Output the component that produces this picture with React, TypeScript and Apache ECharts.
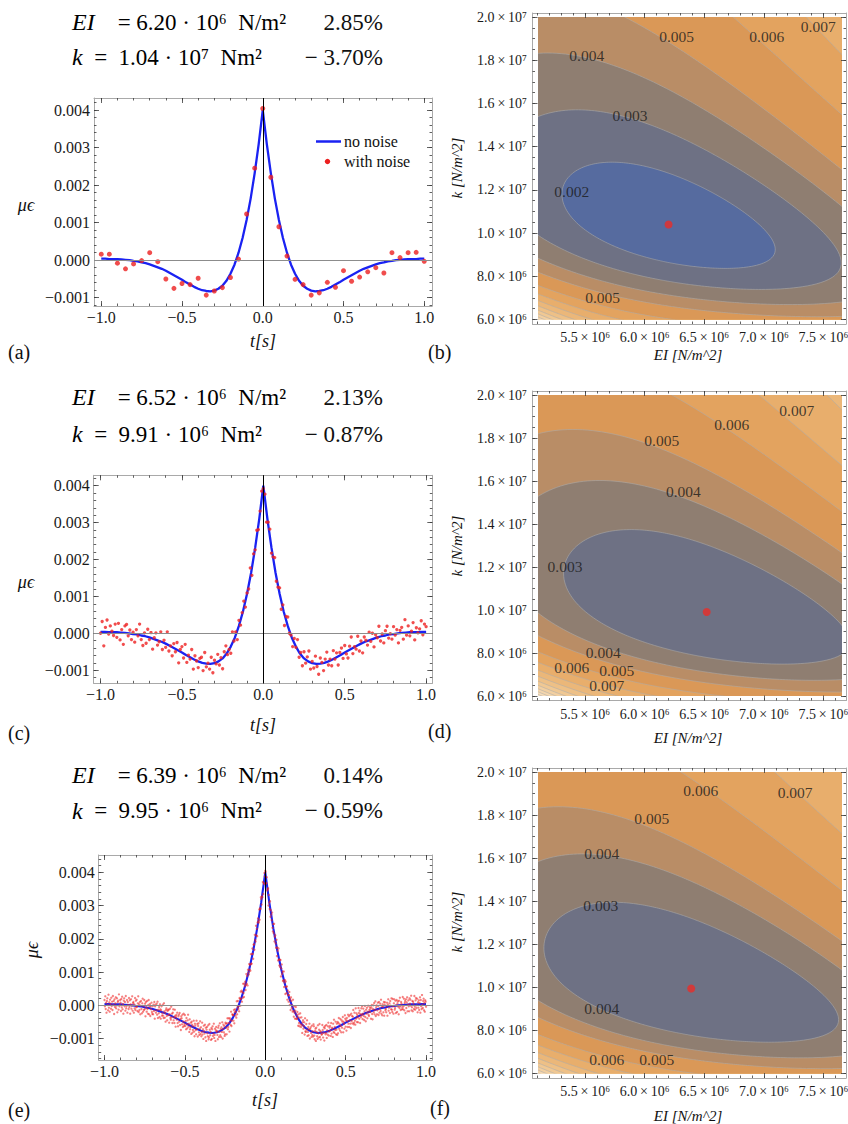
import React, { useEffect, useRef } from "react";
import * as echarts from "echarts";

// ======================= DATA =======================
// Signal panels (a), (c), (e): strain values in units of 1e-5 (µε)
const SIGNAL_SCALE = 1e-5;
const curveStep = 0.025; // t from -1 to 1
const curveNoNoise = [4,4,3,3,3,2,1,0,-2,-3,-6,-8,-11,-15,-19,-23,-28,-34,-40,-46,-52,-59,-65,-71,-76,-80,-82,-83,-81,-76,-68,-55,-36,-12,20,59,107,164,232,310,400,310,232,164,107,59,20,-12,-36,-55,-68,-76,-81,-83,-82,-80,-76,-71,-65,-59,-52,-46,-40,-34,-28,-23,-19,-15,-11,-8,-6,-3,-2,0,1,2,3,3,3,4,4];

// (a) 41 noisy samples, dt = 0.05
const noisyA = [16,16,-8,-23,-10,-1,20,-4,-50,-75,-62,-65,-48,-93,-82,-73,-46,3,123,245,404,221,89,11,-51,-65,-93,-87,-59,-72,-28,-56,-45,-31,-20,-34,20,7,20,21,-3];

// (c) 201 noisy samples, dt = 0.01
const noisyC = [
0,32,-34,16,36,-2,20,6,-6,25,
-11,27,-18,10,-30,20,24,-7,9,-17,
3,-24,10,-7,25,-17,-33,1,-27,11,
-17,2,-43,-12,1,-32,-23,4,-44,-19,
-38,4,-48,-34,-61,-28,-50,-25,-80,-44,
-36,-67,-30,-79,-59,-70,-44,-97,-61,-75,
-93,-68,-65,-101,-52,-91,-81,-97,-65,-107,
-73,-83,-57,-86,-66,-96,-50,-34,-58,-44,
-54,4,-21,4,-17,35,22,56,87,71,
109,120,177,157,215,226,279,281,331,385,
392,377,301,301,282,217,207,205,141,125,
123,65,77,21,46,44,0,-5,-36,-14,
-38,-17,-65,-52,-88,-50,-81,-64,-48,-97,
-76,-94,-62,-90,-111,-67,-79,-101,-70,-51,
-86,-70,-88,-47,-70,-53,-86,-52,-40,-68,
-33,-56,-67,-35,-10,-55,-36,-43,-8,-48,
-21,-53,-10,-19,-32,3,-22,0,-37,-4,
-12,19,-21,-2,-26,7,19,-13,-1,-16,
18,-5,10,-26,8,16,-16,37,-5,20,
-7,6,29,-18,15,1,12,34,-4,25,
18];

// (e) 801 noisy samples, dt = 0.0025
const noisyE = [
16,-3,27,-11,8,-22,13,21,1,-15,32,-7,9,-19,17,4,-10,23,-2,11,
-14,28,1,13,-26,18,-5,6,24,-9,-1,21,-21,10,14,-13,33,-3,2,16,
8,-17,19,-6,26,-12,4,-25,14,21,-3,10,-16,28,-9,-2,16,-22,10,1,
-11,22,-5,15,-25,3,18,-10,-1,27,-16,7,10,-22,3,-9,22,-14,14,-6,
17,-4,-17,6,27,-20,3,-14,10,-27,-1,13,-11,-24,6,20,-19,-2,-14,16,
-12,5,-33,10,-6,-19,13,-11,-25,1,16,-27,-4,4,-32,-2,-12,8,-20,-26,
-3,-27,2,-17,10,-40,-3,2,-22,-15,5,-28,11,-38,-13,-24,-5,-35,3,-12,
-40,-15,-3,-31,-24,2,-31,-38,6,-18,-37,-23,-49,-14,-9,-32,-45,-17,-13,-29,
-13,-52,-27,-10,-38,-43,-4,-36,-25,-53,-22,-12,-45,-36,-53,-13,-31,-64,-36,-29,
-43,-22,-53,-63,-33,-28,-49,-23,-59,-41,-74,-33,-39,-57,-28,-65,-49,-25,-62,-56,
-29,-62,-47,-72,-38,-57,-69,-45,-28,-64,-55,-80,-42,-72,-65,-52,-86,-49,-58,-82,
-74,-63,-46,-79,-93,-55,-61,-74,-87,-46,-72,-56,-94,-62,-54,-81,-89,-70,-48,-86,
-66,-93,-80,-52,-88,-72,-101,-61,-78,-85,-58,-96,-67,-107,-73,-65,-84,-93,-60,-102,
-96,-56,-73,-90,-80,-104,-68,-101,-72,-63,-92,-85,-55,-98,-89,-70,-107,-75,-65,-80,
-77,-89,-102,-67,-61,-95,-80,-54,-90,-71,-95,-66,-80,-51,-100,-71,-58,-81,-62,-92,
-87,-52,-55,-67,-87,-54,-39,-72,-65,-39,-53,-79,-39,-44,-59,-19,-62,-46,-27,-29,
-29,-46,-14,-54,-21,-12,-31,-19,-37,12,-27,-5,13,-11,-2,-18,22,20,-1,41,
19,44,11,40,23,65,37,25,65,58,71,46,61,94,65,88,60,107,99,93,
124,107,121,104,154,125,125,154,171,155,140,182,184,167,212,197,192,239,210,230,
208,249,261,253,249,288,257,292,290,325,320,303,328,325,371,335,368,365,398,388,
405,
402,367,367,385,345,349,352,300,332,309,290,313,266,286,273,256,279,233,222,244,
217,245,192,206,211,186,173,197,148,174,164,135,171,138,120,138,115,136,87,111,
123,94,101,73,75,102,55,69,76,34,72,56,37,57,17,45,30,11,31,40,
1,19,-14,24,13,-8,0,-19,17,-17,-34,-3,-22,-40,-16,-5,-40,-28,-41,-20,
-35,-61,-27,-53,-63,-37,-24,-57,-65,-36,-59,-83,-51,-45,-70,-62,-51,-88,-39,-78,
-80,-56,-73,-45,-92,-80,-65,-90,-72,-55,-100,-71,-66,-83,-95,-61,-89,-78,-94,-57,
-63,-91,-102,-77,-70,-107,-67,-80,-93,-101,-60,-84,-97,-73,-56,-95,-77,-103,-81,-88,
-87,-59,-74,-97,-83,-66,-106,-69,-62,-87,-83,-59,-98,-75,-88,-63,-52,-91,-79,-67,
-62,-76,-92,-53,-85,-67,-70,-95,-55,-80,-43,-83,-65,-74,-49,-87,-73,-55,-89,-50,
-84,-53,-38,-70,-57,-76,-41,-62,-81,-45,-67,-49,-35,-81,-49,-56,-70,-30,-40,-64,
-45,-76,-38,-47,-65,-28,-55,-33,-65,-45,-29,-55,-68,-25,-47,-32,-54,-34,-14,-57,
-52,-22,-46,-58,-9,-40,-24,-50,-29,-36,-51,-8,-23,-40,-16,-53,-26,-35,-9,-29,
-3,-41,-25,-10,-32,-44,-18,-2,-35,-48,-13,-25,-7,-39,-19,-1,-28,-32,-14,-6,
-20,-10,-40,-6,1,-26,-42,-11,0,-21,7,-27,-14,12,-32,-6,0,-27,-15,8,
-2,-29,10,-22,-10,5,-17,17,-25,-3,-30,3,-4,-21,10,-31,2,9,-15,-11,
-21,-2,8,-31,2,18,-16,-7,6,-23,13,-1,-12,21,-13,-20,19,-3,-25,6,
18,-13,-8,14,-23,0,16,-20,6,12,-4,-27,14,-8,23,-2,-14,10,5,-12,
-6,25,-12,-3,20,-15,7,13,-23,18,-8,9,24,-18,2,15,-3,-18,21,5,
17,-1,29,-15,-6,13,-18,11,5,-11,28,-4,-13,15,22,-8,0,20,-21,9,
-7,15,-14,7,24,-22,16,-3,-11,31,2,-8,13,20,-15,7,-19,15,11,-4];

// Tick values for the signal panels
const signalXMajor = [-1, -0.5, 0, 0.5, 1];
const signalXMinor = [-1,-0.9,-0.8,-0.7,-0.6,-0.5,-0.4,-0.3,-0.2,-0.1,0,0.1,0.2,0.3,0.4,0.5,0.6,0.7,0.8,0.9,1];
const signalYMajor = [-0.001, 0, 0.001, 0.002, 0.003, 0.004];
const signalYMinor = [-0.0016,-0.0014,-0.0012,-0.001,-0.0008,-0.0006,-0.0004,-0.0002,0,0.0002,0.0004,0.0006,0.0008,0.001,0.0012,0.0014,0.0016,0.0018,0.002,0.0022,0.0024,0.0026,0.0028,0.003,0.0032,0.0034,0.0036,0.0038,0.004,0.0042,0.0044,0.0046];

// Identified parameters (text + red dots)
const fitEI = ["6.20", "6.52", "6.39"];
const fitEIErr = ["2.85%", "2.13%", "0.14%"];
const fitK = ["1.04", "9.91", "9.95"];
const fitKExp = ["\u2077", "\u2076", "\u2076"];
const fitKErr = ["\u2212 3.70%", "\u2212 0.87%", "\u2212 0.59%"];
const estimateEI = [6.20e6, 6.52e6, 6.39e6];
const estimateK = [1.04e7, 9.91e6, 9.95e6];

// Contour panels (b), (d), (f)
const EI_RANGE = [5.104e6, 7.656e6];
const K_RANGE = [6e6, 2e7];
const eiMajor = [5.5e6, 6e6, 6.5e6, 7e6, 7.5e6];
const kMajor = [6e6, 8e6, 1e7, 1.2e7, 1.4e7, 1.6e7, 1.8e7, 2e7];
const contourLevelsB = [0.002,0.003,0.004,0.005,0.006,0.007,0.008,0.009,0.010,0.011,0.012,0.013,0.014,0.015,0.016];
const contourLevelsDF = [0.003,0.004,0.005,0.006,0.007,0.008,0.009,0.010,0.011,0.012,0.013,0.014,0.015,0.016];
// misfit "radius" reached by each contour level
const contourRadiiB = [0.76,1.23,1.63,2.0,2.5,2.95,3.4,3.85,4.3,4.75,5.2,5.65,6.1,6.55,7.0];
const contourRadiiD = [1.02,1.445,1.8,2.22,2.62,3.02,3.42,3.82,4.22,4.62,5.02,5.42,5.82,6.22];
const contourRadiiF = [1.05,1.46,1.785,2.3,2.78,3.25,3.7,4.15,4.6,5.05,5.5,5.95,6.4,6.85];
const misfitShape = [-4.2, 63];           // cross term, k term
const cornerWarp = [1.0, 0.22, 0.12, 0.06]; // steepening toward low EI / low k corner
// contour labels: [level, EI, k]
const labelsB = [[0.005,6.268e6,1.909e7],[0.006,7.024e6,1.9075e7],[0.007,7.457e6,1.954e7],[0.004,5.513e6,1.824e7],[0.003,5.876e6,1.546e7],[0.002,5.387e6,1.192e7],[0.005,5.647e6,7.03e6]];
const labelsD = [[0.007,7.276e6,1.927e7],[0.006,6.73e6,1.865e7],[0.005,6.143e6,1.7875e7],[0.004,6.324e6,1.55e7],[0.003,5.331e6,1.201e7],[0.004,5.652e6,8.01e6],[0.006,5.387e6,7.32e6],[0.005,5.765e6,7.18e6],[0.007,5.681e6,6.47e6]];
const labelsF = [[0.006,6.47e6,1.912e7],[0.007,7.262e6,1.907e7],[0.005,6.059e6,1.786e7],[0.004,5.639e6,1.621e7],[0.003,5.631e6,1.381e7],[0.004,5.639e6,9.02e6],[0.006,5.681e6,6.65e6],[0.005,6.101e6,6.65e6]];

// band colours (band below level 0.002, 0.003, ... ; last = above 0.016)
const bandPalette = ["#566b9f","#6e7184","#8f7e71","#b98d66","#da9857","#e3a35f","#e8ae6c","#ebb779","#eec086","#f0c893","#f2cfa0","#f4d6ad","#f6dcb8","#f8e2c3","#f9e7cd","#fbecd6"];

// ======================= STYLE / LAYOUT =======================
const SERIF = "Liberation Serif";
const FRAME_COLOR = "#a9a9a9";
const TICK_COLOR = "#3a3a3a";
const BLUE = "#1a22f2";

const SIGNAL_PANELS = [
  { rect: { left: 94, top: 98, width: 338, height: 208 }, x: [-1.045, 1.048], y: [-0.00122, 0.00432], values: noisyA, step: 0.05, dot: 5, dotColor: "#ec1f1f", lw: 2.3 },
  { rect: { left: 93.7, top: 475.3, width: 338.6, height: 208 }, x: [-1.042, 1.038], y: [-0.001355, 0.00428], values: noisyC, step: 0.01, dot: 3.3, dotColor: "#ee2020", lw: 2.3 },
  { rect: { left: 98.7, top: 855, width: 333.6, height: 205 }, x: [-1.036, 1.039], y: [-0.001643, 0.00452], values: noisyE, step: 0.0025, dot: 2.3, dotColor: "rgba(238,35,35,0.72)", lw: 2.1 },
];

const CONTOUR_PANELS = [
  { rect: { left: 538, top: 17, width: 304, height: 302.5 }, idx: 0, levels: contourLevelsB, radii: contourRadiiB, labels: labelsB },
  { rect: { left: 538, top: 395, width: 304, height: 301 }, idx: 1, levels: contourLevelsDF, radii: contourRadiiD, labels: labelsD },
  { rect: { left: 538, top: 772, width: 304, height: 301.5 }, idx: 2, levels: contourLevelsDF, radii: contourRadiiF, labels: labelsF },
];
const FRAME_PAD = { l: 5.5, r: 4, t: 4, b: 4.5 };

// ======================= HELPERS =======================
const tAt = (i: number, step: number) => Math.round((-1 + i * step) * 10000) / 10000;
const minus = (s: string) => s.replace("-", "\u2212");
const fmtT = (v: number) => minus(v.toFixed(1));
const fmtStrain = (v: number) => minus(v.toFixed(3));
const SUP: any = { 6: "\u2076", 7: "\u2077" };
const fmtSci = (v: number) => {
  const e = Math.floor(Math.log10(v) + 1e-9);
  const m = v / Math.pow(10, e);
  return m.toFixed(1) + "\u2009\u00d7\u200910" + SUP[e];
};

function axis(gridIndex: number, position: string, range: number[], ticks: number[], len: number, line = false) {
  const [min, max] = range;
  const vals = ticks.filter((v) => v >= min && v <= max);
  return {
    type: "value", gridIndex, position, min, max, silent: true, z: 4,
    axisLine: { show: line, onZero: false, lineStyle: { color: FRAME_COLOR, width: 1 } },
    axisTick: { show: true, inside: true, length: len, customValues: vals, lineStyle: { color: TICK_COLOR, width: 0.8 } },
    axisLabel: { show: false },
    splitLine: { show: false }, minorTick: { show: false }, minorSplitLine: { show: false },
  };
}

function misfitRadius(ei: number, k: number, est: number[]) {
  const [cross, kk] = misfitShape;
  const [wu, wv, sx, sy] = cornerWarp;
  const xn = (ei - EI_RANGE[0]) / (EI_RANGE[1] - EI_RANGE[0]);
  const yn = (k - K_RANGE[0]) / (K_RANGE[1] - K_RANGE[0]);
  const w = Math.exp(Math.min(30, -xn / sx - yn / sy));
  const du = (ei - est[0]) / 1e6 - wu * w;
  const dv = Math.sqrt(1e7 / k) - Math.sqrt(1e7 / est[1]) + wv * w;
  return Math.sqrt(Math.max(0, du * du + 2 * cross * du * dv + kk * dv * dv));
}

function levelPolygons(est: number[], radii: number[]) {
  const RAYS = 360, STEP = 0.004, TMAX = 1.6;
  const spanE = EI_RANGE[1] - EI_RANGE[0], spanK = K_RANGE[1] - K_RANGE[0];
  const xc = (est[0] - EI_RANGE[0]) / spanE, yc = (est[1] - K_RANGE[0]) / spanK;
  const polys: number[][][] = radii.map(() => []);
  const at = (t: number, dx: number, dy: number) => [EI_RANGE[0] + (xc + t * dx) * spanE, K_RANGE[0] + (yc + t * dy) * spanK];
  for (let a = 0; a < RAYS; a++) {
    const th = (2 * Math.PI * a) / RAYS, dx = Math.cos(th), dy = Math.sin(th);
    let tmax = TMAX;
    if (dy < 0) tmax = Math.min(tmax, (yc + 0.3) / -dy);
    let li = 0, pt = 0, pr = 0;
    for (let t = STEP; li < radii.length; t += STEP) {
      const tt = Math.min(t, tmax);
      const p = at(tt, dx, dy);
      const r = misfitRadius(p[0], p[1], est);
      while (li < radii.length && r >= radii[li]) {
        const f = r > pr ? (radii[li] - pr) / (r - pr) : 1;
        polys[li].push(at(pt + f * (tt - pt), dx, dy));
        li++;
      }
      pt = tt; pr = r;
      if (tt >= tmax) {
        while (li < radii.length) { polys[li].push(at(tmax, dx, dy)); li++; }
      }
    }
  }
  return polys;
}

const bandFill = (level: number) => bandPalette[Math.round(level * 1000) - 2];

function text(x: number, y: number, t: string, o: any = {}) {
  const align = o.align || "left";
  return {
    type: "text", x, y, rotation: o.rotation || 0, silent: true, z: 10,
    style: {
      text: t, rich: o.rich, fill: o.color || "#111", fontFamily: SERIF, fontSize: o.size || 16, fontStyle: o.italic ? "italic" : "normal",
      textAlign: align, align, textVerticalAlign: "middle", verticalAlign: "middle",
    },
  };
}

// ======================= OPTION =======================
function buildOption() {
  const grid: any[] = [], xAxis: any[] = [], yAxis: any[] = [], series: any[] = [], graphic: any[] = [];
  const tickLabels: any[] = []; // tick labels placed through the axes' own scales

  SIGNAL_PANELS.forEach((p, pi) => {
    const r = p.rect;
    const gi = grid.length;
    grid.push({ ...r });
    const xi = xAxis.length, yi = yAxis.length;
    xAxis.push(axis(gi, "bottom", p.x, signalXMajor, 5, true));
    xAxis.push(axis(gi, "bottom", p.x, signalXMinor, 2.5));
    xAxis.push(axis(gi, "top", p.x, signalXMajor, 5, true));
    xAxis.push(axis(gi, "top", p.x, signalXMinor, 2.5));
    yAxis.push(axis(gi, "left", p.y, signalYMajor, 5, true));
    yAxis.push(axis(gi, "left", p.y, signalYMinor, 2.5));
    yAxis.push(axis(gi, "right", p.y, signalYMajor, 5, true));
    yAxis.push(axis(gi, "right", p.y, signalYMinor, 2.5));
    tickLabels.push({ dim: "x", index: xi, values: signalXMajor, fmt: fmtT, size: 16, pos: r.top + r.height + 11.5 });
    tickLabels.push({ dim: "y", index: yi, values: signalYMajor, fmt: fmtStrain, size: 16, pos: r.left - 4 });
    series.push({
      type: "line", name: pi === 0 ? "no noise" : "no noise " + pi, xAxisIndex: xi, yAxisIndex: yi, silent: true, z: 3,
      data: curveNoNoise.map((v, i) => [tAt(i, curveStep), v * SIGNAL_SCALE]),
      symbol: "none", lineStyle: { color: BLUE, width: p.lw },
      markLine: {
        silent: true, symbol: ["none", "none"], label: { show: false }, animation: false,
        data: [
          { yAxis: 0, lineStyle: { color: "#8c8c8c", width: 1.2, type: "solid" } },
          { xAxis: 0, lineStyle: { color: "#000", width: 1, type: "solid" } },
        ],
      },
    });
    series.push({
      type: "scatter", name: pi === 0 ? "with noise" : "with noise " + pi, xAxisIndex: xi, yAxisIndex: yi, silent: true, z: 4,
      data: p.values.map((v, i) => [tAt(i, p.step), v * SIGNAL_SCALE]),
      symbolSize: p.dot, itemStyle: { color: p.dotColor },
    });
  });

  CONTOUR_PANELS.forEach((p) => {
    const r = p.rect;
    const est = [estimateEI[p.idx], estimateK[p.idx]];
    const gData = grid.length;
    grid.push({ ...r });
    const gFrame = grid.length;
    grid.push({ left: r.left - FRAME_PAD.l, top: r.top - FRAME_PAD.t, width: r.width + FRAME_PAD.l + FRAME_PAD.r, height: r.height + FRAME_PAD.t + FRAME_PAD.b });
    const xd = xAxis.length;
    xAxis.push({ type: "value", gridIndex: gData, min: EI_RANGE[0], max: EI_RANGE[1], show: false });
    const yd = yAxis.length;
    yAxis.push({ type: "value", gridIndex: gData, min: K_RANGE[0], max: K_RANGE[1], show: false });
    const eiPx = (EI_RANGE[1] - EI_RANGE[0]) / r.width, kPx = (K_RANGE[1] - K_RANGE[0]) / r.height;
    const fx = [EI_RANGE[0] - FRAME_PAD.l * eiPx, EI_RANGE[1] + FRAME_PAD.r * eiPx];
    const fy = [K_RANGE[0] - FRAME_PAD.b * kPx, K_RANGE[1] + FRAME_PAD.t * kPx];
    const eiMinor = Array.from({ length: 27 }, (_, i) => (50 + i) * 1e5);
    const kMinor = Array.from({ length: 30 }, (_, i) => (11 + i) * 5e5);
    const fxi = xAxis.length;
    xAxis.push(axis(gFrame, "bottom", fx, eiMajor, 5, true));
    xAxis.push(axis(gFrame, "bottom", fx, eiMinor, 2.5));
    xAxis.push(axis(gFrame, "top", fx, eiMajor, 5, true));
    xAxis.push(axis(gFrame, "top", fx, eiMinor, 2.5));
    const fyi = yAxis.length;
    yAxis.push(axis(gFrame, "left", fy, kMajor, 5, true));
    yAxis.push(axis(gFrame, "left", fy, kMinor, 2.5));
    yAxis.push(axis(gFrame, "right", fy, kMajor, 5, true));
    yAxis.push(axis(gFrame, "right", fy, kMinor, 2.5));
    tickLabels.push({ dim: "x", index: fxi, values: eiMajor, fmt: fmtSci, size: 14, pos: r.top + r.height + FRAME_PAD.b + 13.5 });
    tickLabels.push({ dim: "y", index: fyi, values: kMajor, fmt: fmtSci, size: 14, pos: r.left - FRAME_PAD.l - 5.5 });

    const polys = levelPolygons(est, p.radii);
    const n = polys.length;
    series.push({
      type: "custom", xAxisIndex: xd, yAxisIndex: yd, clip: true, silent: true, z: 1,
      data: Array.from({ length: n + 1 }, () => [est[0], est[1]]),
      renderItem: (params: any, api: any) => {
        const i = params.dataIndex;
        if (i === 0) {
          const a = api.coord([EI_RANGE[0], K_RANGE[1]]), b = api.coord([EI_RANGE[1], K_RANGE[0]]);
          return { type: "rect", shape: { x: a[0], y: a[1], width: b[0] - a[0], height: b[1] - a[1] }, style: { fill: bandPalette[bandPalette.length - 1] } };
        }
        const li = n - i;
        const pts = polys[li].map((q) => api.coord(q));
        return { type: "polygon", shape: { points: pts }, style: { fill: bandFill(p.levels[li]), stroke: "rgba(172,172,172,0.8)", lineWidth: 0.7 } };
      },
    });
    series.push({
      type: "scatter", xAxisIndex: xd, yAxisIndex: yd, silent: true, z: 5,
      data: p.labels.map((l) => [l[1], l[2], l[0]]),
      symbolSize: 0.1, itemStyle: { color: "rgba(0,0,0,0)" },
      label: { show: true, position: "inside", formatter: (q: any) => q.value[2].toFixed(3), fontFamily: SERIF, fontSize: 15.5, color: "#1a1a1a" },
    });
    series.push({
      type: "scatter", xAxisIndex: xd, yAxisIndex: yd, silent: true, z: 6,
      data: [est], symbolSize: 8, itemStyle: { color: "#ea2d28" },
    });
  });

  // ---- texts ----
  const richF = {
    i: { fontFamily: SERIF, fontStyle: "italic", fontSize: 24, fill: "#000", color: "#000" },
    n: { fontFamily: SERIF, fontSize: 23, fill: "#000", color: "#000" },
  };
  const lineY = [[22, 57], [397, 434], [775, 810.5]];
  for (let i = 0; i < 3; i++) {
    graphic.push(text(72, lineY[i][0], `{i|EI}{n|\u2003=\u2005${fitEI[i]}\u2005\u00b7\u200510\u2076\u2002N/m\u00b2}`, { rich: richF, size: 23 }));
    graphic.push(text(383, lineY[i][0], fitEIErr[i], { size: 23, align: "right" }));
    graphic.push(text(72, lineY[i][1], `{i|k}{n|\u2002=\u2002${fitK[i]}\u2005\u00b7\u200510${fitKExp[i]}\u2002Nm\u00b2}`, { rich: richF, size: 23 }));
    graphic.push(text(383, lineY[i][1], fitKErr[i], { size: 23, align: "right" }));
  }
  // axis names
  const tY = [341, 725, 1100];
  const muY = [205, 582, 950];
  tY.forEach((y, i) => graphic.push(text(i === 2 ? 265 : 263, y, "t[s]", { size: 18, italic: true, align: "center" })));
  muY.forEach((y, i) => graphic.push(text(i === 2 ? 32 : 26, y, "\u03bc\u03f5", { size: 18, italic: true, align: "center", rotation: i === 2 ? Math.PI / 2 : 0 })));
  const eiY = [354.5, 738, 1115.5];
  const kY = [168, 546, 922];
  eiY.forEach((y) => graphic.push(text(688, y, "EI [N/m^2]", { size: 15, italic: true, align: "center" })));
  kY.forEach((y) => graphic.push(text(457, y, "k [N/m^2]", { size: 15, italic: true, align: "center", rotation: Math.PI / 2 })));
  // panel letters
  const letters = [["(a)", 8, 352], ["(b)", 428, 352], ["(c)", 8, 733], ["(d)", 428, 731], ["(e)", 8, 1110], ["(f)", 430, 1108]];
  letters.forEach((l: any) => graphic.push(text(l[1], l[2], l[0], { size: 20 })));
  // legend of panel (a)
  graphic.push({ type: "line", silent: true, z: 10, shape: { x1: 316, y1: 141.5, x2: 341, y2: 141.5 }, style: { stroke: BLUE, lineWidth: 2.5 } });
  graphic.push({ type: "circle", silent: true, z: 10, shape: { cx: 327.5, cy: 161.5, r: 2.7 }, style: { fill: "#ec1f1f" } });
  graphic.push(text(344, 141.5, "no noise", { size: 16 }));
  graphic.push(text(344, 161.5, "with noise", { size: 16 }));

  return {
    option: {
      animation: false,
      backgroundColor: "#fff",
      textStyle: { fontFamily: SERIF },
      grid, xAxis, yAxis, series, graphic: [],
    },
    graphic,
    tickLabels,
  };
}

export default function App() {
  const ref = useRef<HTMLDivElement>(null);
  useEffect(() => {
    if (!ref.current) return;
    const chart = echarts.init(ref.current, null, { renderer: "svg" });
    const built = buildOption();
    chart.setOption(built.option as any);
    const all: any[] = [...built.graphic];
    built.tickLabels.forEach((s: any) => {
      s.values.forEach((v: number) => {
        if (s.dim === "x") {
          const px = chart.convertToPixel({ xAxisIndex: s.index } as any, v) as any;
          all.push(text(px, s.pos, s.fmt(v), { size: s.size, align: "center", color: "#1a1a1a" }));
        } else {
          const py = chart.convertToPixel({ yAxisIndex: s.index } as any, v) as any;
          all.push(text(s.pos, py, s.fmt(v), { size: s.size, align: "right", color: "#1a1a1a" }));
        }
      });
    });
    chart.setOption({ graphic: all } as any);
    return () => chart.dispose();
  }, []);
  return <div ref={ref} style={{ position: "absolute", left: 0, top: 0, width: 848, height: 1124, background: "#fff" }} />;
}
